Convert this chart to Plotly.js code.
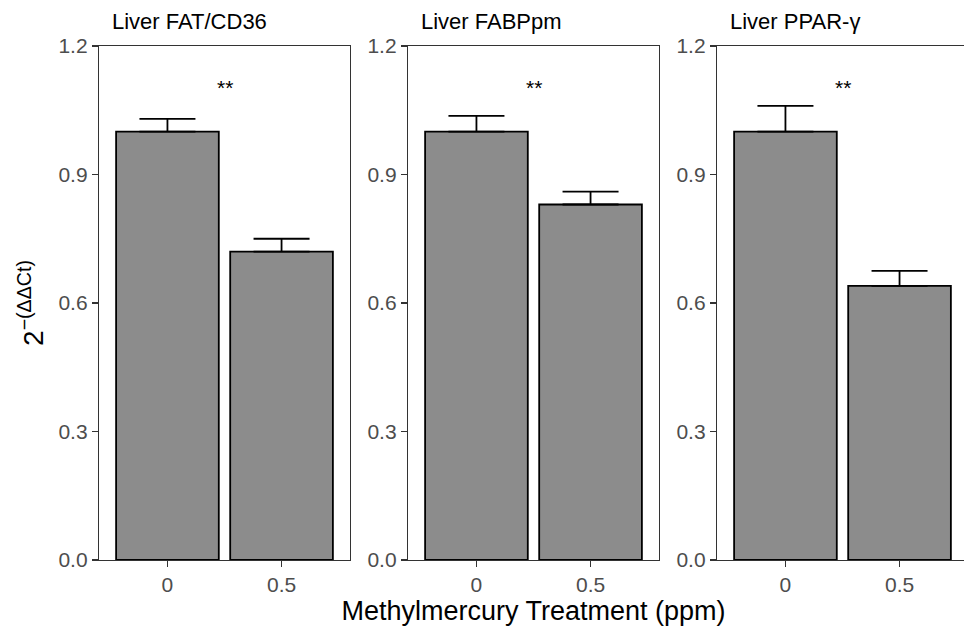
<!DOCTYPE html>
<html>
<head>
<meta charset="utf-8">
<script src="https://cdn.plot.ly/plotly-3.0.1.min.js"></script>
<style>html,body{margin:0;padding:0;background:#fff;}#chart{width:964px;height:627px;}</style>
</head>
<body>
<div id="chart"></div>
<script>
// Data
const treatments = ["0", "0.5"];
const panelTitles = ["Liver FAT/CD36", "Liver FABPpm", "Liver PPAR-γ"];
const fatCd36 = [1.00, 0.72];
const fatCd36Err = [0.03, 0.03];
const fabppm = [1.00, 0.83];
const fabppmErr = [0.037, 0.03];
const pparG = [1.00, 0.64];
const pparGErr = [0.06, 0.035];
const significance = ["**", "**", "**"];
const yTicks = [0, 0.3, 0.6, 0.9, 1.2];
const yTickText = ["0.0", "0.3", "0.6", "0.9", "1.2"];

const W = 964;
const FONT = "Liberation Sans, Arial, sans-serif";
const xpos = treatments.map((_, i) => i);
const series = [fatCd36, fabppm, pparG];
const errs = [fatCd36Err, fabppmErr, pparGErr];

const traces = series.map((vals, k) => ({
  type: "bar",
  x: xpos,
  y: vals,
  width: 0.9,
  xaxis: k === 0 ? "x" : "x" + (k + 1),
  yaxis: k === 0 ? "y" : "y" + (k + 1),
  marker: { color: "#8c8c8c", line: { color: "#000", width: 1.8 } },
  error_y: { type: "data", symmetric: false, array: errs[k], arrayminus: [0, 0], color: "#000", thickness: 1.8, width: 28 },
  hoverinfo: "skip",
  showlegend: false
}));

const domains = [[99 / W, 350 / W], [408 / W, 659 / W], [717 / W, 1]];
const ranges = [[-0.6, 1.6], [-0.6, 1.6], [-0.6, 1.565]];

const layout = {
  width: 964, height: 627,
  margin: { l: 0, r: 0, t: 46, b: 67 },
  paper_bgcolor: "#fff", plot_bgcolor: "#fff",
  font: { family: FONT, color: "#000" },
  bargap: 0,
  annotations: []
};

for (let k = 0; k < 3; k++) {
  const xa = "xaxis" + (k === 0 ? "" : k + 1);
  const ya = "yaxis" + (k === 0 ? "" : k + 1);
  const yid = k === 0 ? "y" : "y" + (k + 1);
  const xid = k === 0 ? "x" : "x" + (k + 1);
  layout[xa] = {
    domain: domains[k], range: ranges[k], anchor: yid,
    tickmode: "array", tickvals: xpos, ticktext: treatments,
    ticks: "outside", ticklen: 6, tickwidth: 1.5, tickcolor: "#333",
    tickfont: { size: 21, color: "#4d4d4d", family: FONT },
    showline: true, linecolor: "#333", linewidth: 1.2, mirror: true,
    showgrid: false, zeroline: false, fixedrange: true
  };
  layout[ya] = {
    domain: [0, 1], range: [0, 1.2], anchor: xid,
    tickmode: "array", tickvals: yTicks, ticktext: yTickText,
    ticks: "outside", ticklen: 6, tickwidth: 1.5, tickcolor: "#333",
    tickfont: { size: 21, color: "#4d4d4d", family: FONT },
    showline: true, linecolor: "#333", linewidth: 1.2, mirror: true,
    showgrid: false, zeroline: false, fixedrange: true
  };
  layout.annotations.push({
    xref: xid + " domain", yref: yid + " domain", x: 11 / 251, y: 1 + 24 / 514,
    xanchor: "left", yanchor: "middle", showarrow: false,
    text: panelTitles[k], font: { size: 22, color: "#000", family: FONT }
  });
  layout.annotations.push({
    xref: xid, yref: yid, x: 0.5, y: 1.103,
    xanchor: "center", yanchor: "middle", showarrow: false,
    text: significance[k], font: { size: 21, color: "#000", family: FONT }
  });
}

layout.yaxis.title = { text: "2<sup>−(ΔΔCt)</sup>", font: { size: 28, color: "#000", family: FONT }, standoff: 6 };
layout.xaxis2.title = { text: "Methylmercury Treatment (ppm)", font: { size: 27, color: "#000", family: FONT }, standoff: 4 };

Plotly.newPlot("chart", traces, layout, { displayModeBar: false, staticPlot: true });
</script>
</body>
</html>
